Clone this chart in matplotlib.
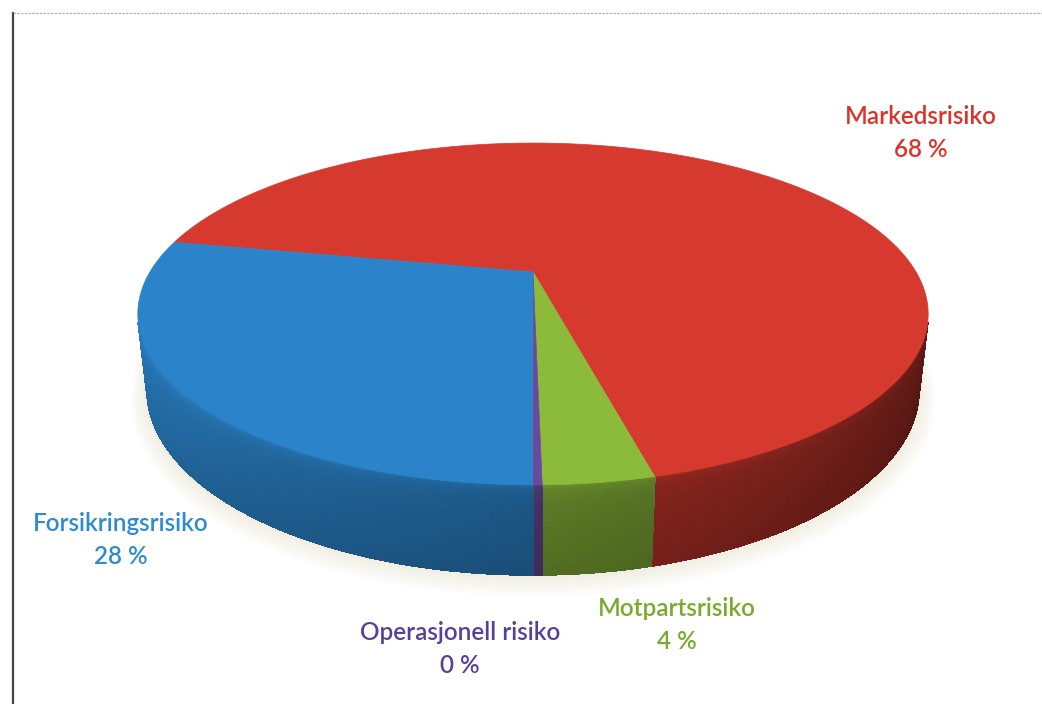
"""3D pie of risk composition (Markedsrisiko / Motpartsrisiko / Operasjonell / Forsikring),
drawn as a perspective-projected disc on a pixel-space axes."""
import numpy as np
import matplotlib
matplotlib.use("Agg")
import matplotlib.pyplot as plt
from matplotlib.patches import Polygon
from matplotlib.collections import PolyCollection
from matplotlib.colors import to_rgb

# data (shares in percent, clockwise from START)
labels = ["Markedsrisiko", "Motpartsrisiko", "Operasjonell risiko", "Forsikringsrisiko"]
shares = [68.0, 3.6, 0.3, 28.1]
pct_text = ["68 %", "4 %", "0 %", "28 %"]

# style
top_colors = ["#d63a2f", "#8cbb3b", "#6a4a9c", "#2b83c9"]
text_colors = ["#d9342b", "#78ab2a", "#58409a", "#2e8bd0"]
label_xy = [(921, 133), (677, 625), (460, 649), (121, 540)]

# projection set-up (pixels)
W, H = 1042, 704
ELEV = np.radians(24)
DIST = 3.72
THICK = 0.207
SCALE_X = 1425
SCALE_Y = 1469
APEX = (533, 272)
START = 281.2  # degrees clockwise from 12 o'clock


def project(phi_deg, z, r=1.0):
    phi = np.radians(phi_deg)
    x = r * np.sin(phi)
    y = r * np.cos(phi)
    c, s = np.cos(ELEV), np.sin(ELEV)
    depth = y * c + DIST - z * s
    up = y * s + z * c
    return np.column_stack([APEX[0] + SCALE_X * x / depth, APEX[1] - SCALE_Y * up / depth])


def shade(color, f):
    return tuple(min(1.0, v * f) for v in to_rgb(color))


fig = plt.figure(figsize=(W / 100, H / 100), dpi=100)
ax = fig.add_axes([0, 0, 1, 1])
ax.set_xlim(0, W)
ax.set_ylim(H, 0)
ax.axis("off")

# frame
ax.plot([12.5, 12.5], [13, H], color="#444444", lw=1.6)
ax.plot([12.5, W], [13, 13], color="#b0b0b0", lw=0.9, ls=(0, (2, 1)))

# soft shadow below the disc
for k in range(6):
    ring = project(np.linspace(90, 270, 120), -THICK - 0.004 * k, r=1.0 + 0.008 * k)
    ax.add_patch(Polygon(np.vstack([ring, project(np.linspace(270, 90, 120), 0)]),
                         closed=True, fc="#e6e0cc", ec="none", alpha=0.12, zorder=1))

# slice angle ranges
spans = np.array(shares) / sum(shares) * 360
starts = START + np.concatenate([[0], np.cumsum(spans)[:-1]])
ends = starts + spans

# visible part of the side wall
half = np.degrees(np.arccos(1 / (DIST * np.cos(ELEV))))
vis_lo, vis_hi = 180 - half, 180 + half

polys, cols = [], []
nz = 24
for a0, a1, col in zip(starts, ends, top_colors):
    for shift in (-360, 0, 360):
        lo = max(a0 + shift, vis_lo)
        hi = min(a1 + shift, vis_hi)
        if hi <= lo:
            continue
        phis = np.linspace(lo, hi, max(2, int(hi - lo) + 2))
        zs = np.linspace(0, -THICK, nz + 1)
        for i in range(len(phis) - 1):
            t = (0.5 * (phis[i] + phis[i + 1]) - vis_lo) / (vis_hi - vis_lo)
            f_ang = 0.42 + 0.5 * t
            for j in range(nz):
                u = j / (nz - 1)
                # rounded rim highlight near the top, then a gentle falloff
                f_z = 1.0 + 0.12 * np.exp(-u / 0.08) - 0.12 * u
                p = np.vstack([project([phis[i], phis[i + 1]], zs[j]),
                               project([phis[i + 1], phis[i]], zs[j + 1])])
                polys.append(p)
                cols.append(shade(col, f_ang * f_z))
ax.add_collection(PolyCollection(polys, facecolors=cols, edgecolors=cols, lw=0.8,
                                 antialiased=False, zorder=2))

# top face
for a0, a1, col in zip(starts, ends, top_colors):
    arc = project(np.linspace(a0, a1, max(3, int(a1 - a0) * 2 + 2)), 0)
    ax.add_patch(Polygon(np.vstack([[APEX], arc]), closed=True, fc=col, ec=col,
                         lw=0.5, zorder=3))

# labels
for name, pct, col, (x, y) in zip(labels, pct_text, text_colors, label_xy):
    ax.text(x, y, f"{name}\n{pct}", color=col, ha="center", va="center",
            fontsize=17.5, fontweight="semibold", family=["Lato", "DejaVu Sans"],
            linespacing=1.55, zorder=5)

fig.savefig("out.png", dpi=100, facecolor="white")
